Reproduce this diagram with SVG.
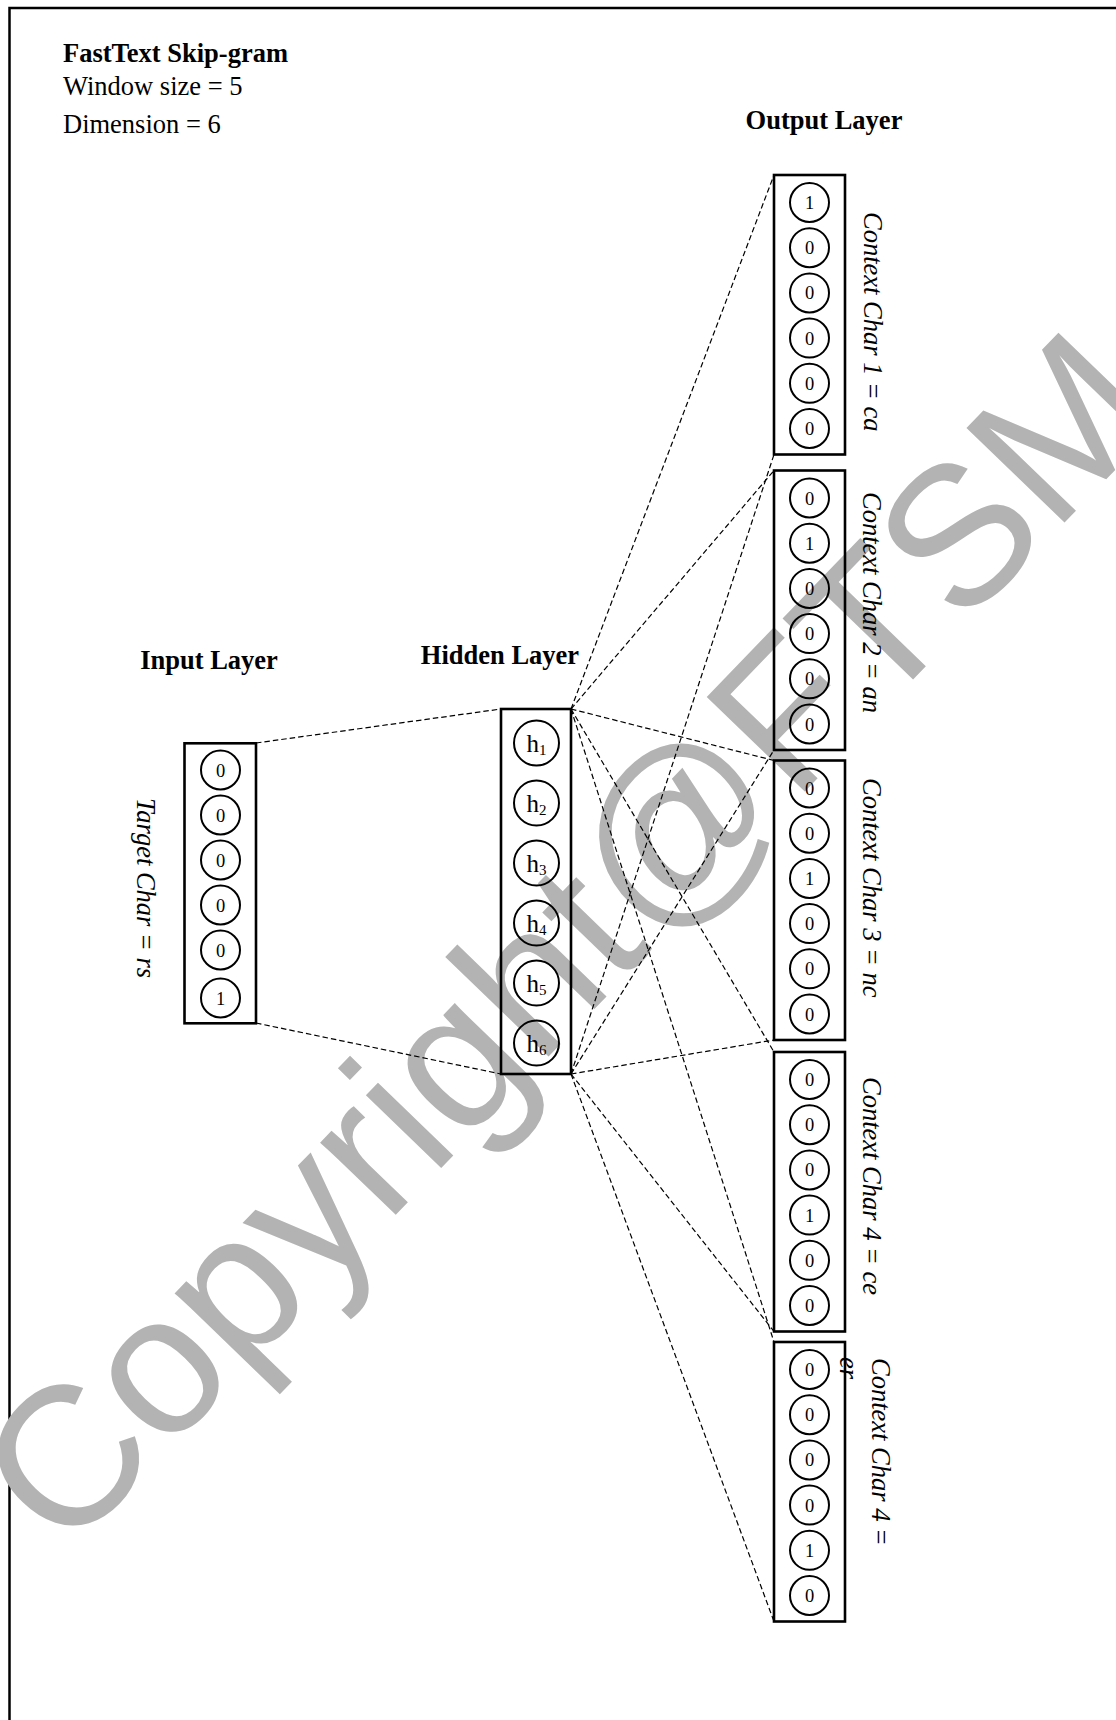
<svg xmlns="http://www.w3.org/2000/svg" width="1116" height="1720" viewBox="0 0 1116 1720">
<style>
.frame{fill:none;stroke:#000;stroke-width:2.5}
.box{fill:none;stroke:#000;stroke-width:2.6}
.cell{fill:none;stroke:#000;stroke-width:2}
.t{font-family:"Liberation Serif","Times New Roman",serif;fill:#000}
.title{font-size:26.5px;font-weight:bold}
.info{font-size:26.5px}
.hd{font-size:26.5px;font-weight:bold;text-anchor:middle}
.lab{font-size:26.5px;font-style:italic}
.num{font-size:18.5px;text-anchor:middle}
.h{font-size:25px;text-anchor:middle}
.sub{font-size:15px}
.conn line{stroke:#000;stroke-width:1.2;stroke-dasharray:5.5 3;fill:none}
.wm{font-family:"Liberation Sans",Arial,sans-serif;font-size:198px;fill:#b3b3b3}
</style>
<rect class="frame" x="9.5" y="8" width="1200" height="1800"/>
<text class="wm" transform="translate(687,840) rotate(-46)" x="-948" y="51">Copyright@FTSM</text>

<g id="header">
<text class="t title" x="63" y="62">FastText Skip-gram</text>
<text class="t info" x="63" y="95">Window size = 5</text>
<text class="t info" x="63" y="133">Dimension = 6</text>
<text class="t hd" x="824" y="129">Output Layer</text>
<text class="t hd" x="500" y="664">Hidden Layer</text>
<text class="t hd" x="209" y="669">Input Layer</text>
</g>

<g id="connectors" class="conn">
<line x1="256" y1="743" x2="501" y2="709"/>
<line x1="256" y1="1023" x2="501" y2="1074"/>
<line x1="571" y1="709" x2="774" y2="175"/>
<line x1="571" y1="709" x2="774" y2="470.5"/>
<line x1="571" y1="709" x2="774" y2="760.5"/>
<line x1="571" y1="709" x2="774" y2="1052"/>
<line x1="571" y1="709" x2="774" y2="1342"/>
<line x1="571" y1="1074" x2="774" y2="454.5"/>
<line x1="571" y1="1074" x2="774" y2="750"/>
<line x1="571" y1="1074" x2="774" y2="1040"/>
<line x1="571" y1="1074" x2="774" y2="1331.5"/>
<line x1="571" y1="1074" x2="774" y2="1621.5"/>
</g>

<g id="input">
<rect class="box" x="184.5" y="743.3" width="71.5" height="280"/>
<circle class="cell" cx="220.5" cy="770" r="19.5"/><text class="t num" x="220.5" y="776.5">0</text>
<circle class="cell" cx="220.5" cy="815" r="19.5"/><text class="t num" x="220.5" y="821.5">0</text>
<circle class="cell" cx="220.5" cy="860" r="19.5"/><text class="t num" x="220.5" y="866.5">0</text>
<circle class="cell" cx="220.5" cy="905" r="19.5"/><text class="t num" x="220.5" y="911.5">0</text>
<circle class="cell" cx="220.5" cy="950" r="19.5"/><text class="t num" x="220.5" y="956.5">0</text>
<circle class="cell" cx="220.5" cy="998" r="19.5"/><text class="t num" x="220.5" y="1004.5">1</text>
<text class="t lab" transform="translate(137,798) rotate(90)">Target Char = rs</text>
</g>

<g id="hidden">
<rect class="box" x="501" y="709" width="70" height="365"/>
<circle class="cell" cx="536.5" cy="743" r="22.5"/><text class="t h" x="536.5" y="751.5">h<tspan class="sub" dy="3">1</tspan></text>
<circle class="cell" cx="536.5" cy="803" r="22.5"/><text class="t h" x="536.5" y="811.5">h<tspan class="sub" dy="3">2</tspan></text>
<circle class="cell" cx="536.5" cy="863" r="22.5"/><text class="t h" x="536.5" y="871.5">h<tspan class="sub" dy="3">3</tspan></text>
<circle class="cell" cx="536.5" cy="923" r="22.5"/><text class="t h" x="536.5" y="931.5">h<tspan class="sub" dy="3">4</tspan></text>
<circle class="cell" cx="536.5" cy="983" r="22.5"/><text class="t h" x="536.5" y="991.5">h<tspan class="sub" dy="3">5</tspan></text>
<circle class="cell" cx="536.5" cy="1043" r="22.5"/><text class="t h" x="536.5" y="1051.5">h<tspan class="sub" dy="3">6</tspan></text>
</g>

<g id="out1">
<rect class="box" x="774" y="175" width="71" height="279.5"/>
<circle class="cell" cx="809.5" cy="202.5" r="19.5"/><text class="t num" x="809.5" y="209">1</text>
<circle class="cell" cx="809.5" cy="247.7" r="19.5"/><text class="t num" x="809.5" y="254.2">0</text>
<circle class="cell" cx="809.5" cy="292.9" r="19.5"/><text class="t num" x="809.5" y="299.4">0</text>
<circle class="cell" cx="809.5" cy="338.1" r="19.5"/><text class="t num" x="809.5" y="344.6">0</text>
<circle class="cell" cx="809.5" cy="383.3" r="19.5"/><text class="t num" x="809.5" y="389.8">0</text>
<circle class="cell" cx="809.5" cy="428.5" r="19.5"/><text class="t num" x="809.5" y="435">0</text>
<text class="t lab" transform="translate(864,212) rotate(90)">Context Char 1 = ca</text>
</g>

<g id="out2">
<rect class="box" x="774" y="470.5" width="71" height="279.5"/>
<circle class="cell" cx="809.5" cy="498" r="19.5"/><text class="t num" x="809.5" y="504.5">0</text>
<circle class="cell" cx="809.5" cy="543.2" r="19.5"/><text class="t num" x="809.5" y="549.7">1</text>
<circle class="cell" cx="809.5" cy="588.4" r="19.5"/><text class="t num" x="809.5" y="594.9">0</text>
<circle class="cell" cx="809.5" cy="633.6" r="19.5"/><text class="t num" x="809.5" y="640.1">0</text>
<circle class="cell" cx="809.5" cy="678.8" r="19.5"/><text class="t num" x="809.5" y="685.3">0</text>
<circle class="cell" cx="809.5" cy="724" r="19.5"/><text class="t num" x="809.5" y="730.5">0</text>
<text class="t lab" transform="translate(863,492) rotate(90)">Context Char 2 = an</text>
</g>

<g id="out3">
<rect class="box" x="774" y="760.5" width="71" height="279.5"/>
<circle class="cell" cx="809.5" cy="788" r="19.5"/><text class="t num" x="809.5" y="794.5">0</text>
<circle class="cell" cx="809.5" cy="833.2" r="19.5"/><text class="t num" x="809.5" y="839.7">0</text>
<circle class="cell" cx="809.5" cy="878.4" r="19.5"/><text class="t num" x="809.5" y="884.9">1</text>
<circle class="cell" cx="809.5" cy="923.6" r="19.5"/><text class="t num" x="809.5" y="930.1">0</text>
<circle class="cell" cx="809.5" cy="968.8" r="19.5"/><text class="t num" x="809.5" y="975.3">0</text>
<circle class="cell" cx="809.5" cy="1014" r="19.5"/><text class="t num" x="809.5" y="1020.5">0</text>
<text class="t lab" transform="translate(863,778) rotate(90)">Context Char 3 = nc</text>
</g>

<g id="out4">
<rect class="box" x="774" y="1052" width="71" height="279.5"/>
<circle class="cell" cx="809.5" cy="1079.5" r="19.5"/><text class="t num" x="809.5" y="1086">0</text>
<circle class="cell" cx="809.5" cy="1124.7" r="19.5"/><text class="t num" x="809.5" y="1131.2">0</text>
<circle class="cell" cx="809.5" cy="1169.9" r="19.5"/><text class="t num" x="809.5" y="1176.4">0</text>
<circle class="cell" cx="809.5" cy="1215.1" r="19.5"/><text class="t num" x="809.5" y="1221.6">1</text>
<circle class="cell" cx="809.5" cy="1260.3" r="19.5"/><text class="t num" x="809.5" y="1266.8">0</text>
<circle class="cell" cx="809.5" cy="1305.5" r="19.5"/><text class="t num" x="809.5" y="1312">0</text>
<text class="t lab" transform="translate(863,1077) rotate(90)">Context Char 4 = ce</text>
</g>

<g id="out5">
<rect class="box" x="774" y="1342" width="71" height="279.5"/>
<circle class="cell" cx="809.5" cy="1369.5" r="19.5"/><text class="t num" x="809.5" y="1376">0</text>
<circle class="cell" cx="809.5" cy="1414.7" r="19.5"/><text class="t num" x="809.5" y="1421.2">0</text>
<circle class="cell" cx="809.5" cy="1459.9" r="19.5"/><text class="t num" x="809.5" y="1466.4">0</text>
<circle class="cell" cx="809.5" cy="1505.1" r="19.5"/><text class="t num" x="809.5" y="1511.6">0</text>
<circle class="cell" cx="809.5" cy="1550.3" r="19.5"/><text class="t num" x="809.5" y="1556.8">1</text>
<circle class="cell" cx="809.5" cy="1595.5" r="19.5"/><text class="t num" x="809.5" y="1602">0</text>
<text class="t lab" transform="translate(872,1358) rotate(90)">Context Char 4 =</text>
<text class="t lab" transform="translate(840,1357) rotate(90)">er</text>
</g>
</svg>
